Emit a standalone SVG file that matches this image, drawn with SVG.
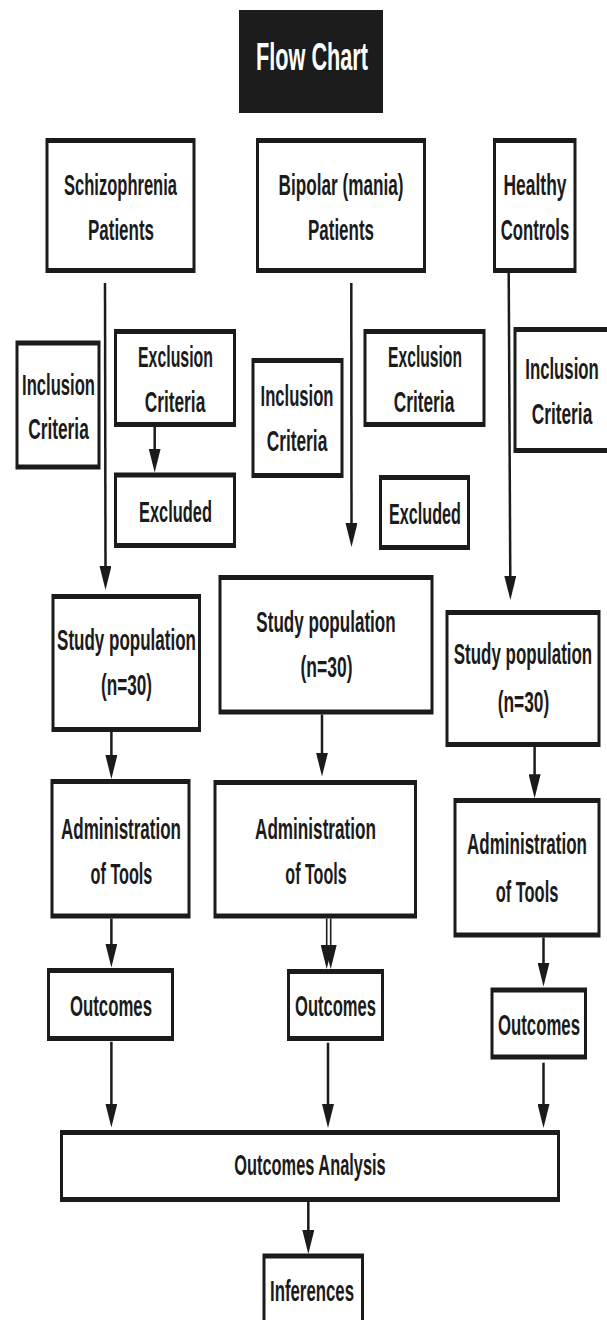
<svg xmlns="http://www.w3.org/2000/svg" width="607" height="1320" viewBox="0 0 607 1320">
<style>
.bo{fill:#1b1b1b}
.bi{fill:#ffffff}
.title{fill:#1c1c1c}
.t{font-family:"Liberation Sans",Arial,sans-serif;font-weight:bold;font-size:30px;fill:#1b1b1b;text-anchor:middle}
.tt{font-family:"Liberation Sans",Arial,sans-serif;font-weight:bold;font-size:39px;fill:#ffffff;text-anchor:middle}
.c{stroke:#1b1b1b;stroke-width:2.5;fill:none;marker-end:url(#ah)}
.c2{stroke:#1b1b1b;stroke-width:1.6;fill:none;marker-end:url(#ah)}
</style>
<defs>
<marker id="ah" viewBox="0 -6 24 12" refX="4" refY="0" markerWidth="24" markerHeight="12" markerUnits="userSpaceOnUse" orient="auto">
<path d="M0,-6 L24,0 L0,6 z" fill="#1b1b1b"/>
</marker>
</defs>
<rect width="607" height="1320" fill="#ffffff"/>

<g id="title">
<rect class="title" x="239" y="10" width="144" height="103"/>
<text class="tt" transform="translate(312,70) scale(0.556,1)">Flow Chart</text>
</g>

<g id="schizophrenia">
<rect class="bo" x="45.5" y="138" width="150" height="135"/>
<rect class="bi" x="48.5" y="143" width="144" height="125"/>
<text class="t" transform="translate(120.5,195) scale(0.551,1)">Schizophrenia</text>
<text class="t" transform="translate(121,240) scale(0.566,1)">Patients</text>
</g>

<g id="bipolar">
<rect class="bo" x="256" y="138" width="170" height="135"/>
<rect class="bi" x="259" y="143" width="164" height="125"/>
<text class="t" transform="translate(341,195) scale(0.572,1)">Bipolar (mania)</text>
<text class="t" transform="translate(341,240) scale(0.566,1)">Patients</text>
</g>

<g id="healthy">
<rect class="bo" x="493" y="138" width="83.5" height="135"/>
<rect class="bi" x="496" y="143" width="77.5" height="125"/>
<text class="t" transform="translate(535,195) scale(0.581,1)">Healthy</text>
<text class="t" transform="translate(535,240) scale(0.556,1)">Controls</text>
</g>

<g id="inclusion1">
<rect class="bo" x="15.5" y="340.5" width="85" height="129"/>
<rect class="bi" x="18.5" y="345.5" width="79" height="119"/>
<text class="t" transform="translate(58.5,395) scale(0.554,1)">Inclusion</text>
<text class="t" transform="translate(58.5,439) scale(0.576,1)">Criteria</text>
</g>

<g id="exclusion1">
<rect class="bo" x="114" y="329" width="122" height="98"/>
<rect class="bi" x="117" y="334" width="116" height="88"/>
<text class="t" transform="translate(175.5,367) scale(0.529,1)">Exclusion</text>
<text class="t" transform="translate(175,411.5) scale(0.576,1)">Criteria</text>
</g>

<g id="excluded1">
<rect class="bo" x="114" y="472.5" width="122" height="75.5"/>
<rect class="bi" x="117" y="477.5" width="116" height="65.5"/>
<text class="t" transform="translate(175.5,521.5) scale(0.547,1)">Excluded</text>
</g>

<g id="inclusion2">
<rect class="bo" x="251.5" y="358" width="92" height="120"/>
<rect class="bi" x="254.5" y="363" width="86" height="110"/>
<text class="t" transform="translate(297,406) scale(0.554,1)">Inclusion</text>
<text class="t" transform="translate(297,450.5) scale(0.576,1)">Criteria</text>
</g>

<g id="exclusion2">
<rect class="bo" x="363.5" y="329" width="122" height="98"/>
<rect class="bi" x="366.5" y="334" width="116" height="88"/>
<text class="t" transform="translate(425,367) scale(0.522,1)">Exclusion</text>
<text class="t" transform="translate(424,411.5) scale(0.576,1)">Criteria</text>
</g>

<g id="excluded2">
<rect class="bo" x="379" y="475" width="91" height="75"/>
<rect class="bi" x="382" y="480" width="85" height="65"/>
<text class="t" transform="translate(425,524) scale(0.54,1)">Excluded</text>
</g>

<g id="inclusion3">
<rect class="bo" x="513.5" y="327" width="100" height="126"/>
<rect class="bi" x="516.5" y="332" width="94" height="116"/>
<text class="t" transform="translate(562,379) scale(0.558,1)">Inclusion</text>
<text class="t" transform="translate(562,424) scale(0.576,1)">Criteria</text>
</g>

<g id="study1">
<rect class="bo" x="51.5" y="594" width="149.5" height="138"/>
<rect class="bi" x="54.5" y="599" width="143.5" height="128"/>
<text class="t" transform="translate(126.5,650) scale(0.567,1)">Study population</text>
<text class="t" transform="translate(126.5,695) scale(0.572,1)">(n=30)</text>
</g>

<g id="study2">
<rect class="bo" x="218.5" y="575" width="215" height="139.5"/>
<rect class="bi" x="221.5" y="580" width="209" height="129.5"/>
<text class="t" transform="translate(326,631.5) scale(0.569,1)">Study population</text>
<text class="t" transform="translate(326.5,676.5) scale(0.583,1)">(n=30)</text>
</g>

<g id="study3">
<rect class="bo" x="445.5" y="610" width="155" height="137"/>
<rect class="bi" x="448.5" y="615" width="149" height="127"/>
<text class="t" transform="translate(523,664) scale(0.565,1)">Study population</text>
<text class="t" transform="translate(523.5,711.5) scale(0.578,1)">(n=30)</text>
</g>

<g id="admin1">
<rect class="bo" x="50.5" y="779" width="140" height="139.5"/>
<rect class="bi" x="53.5" y="784" width="134" height="129.5"/>
<text class="t" transform="translate(121,838.5) scale(0.567,1)">Administration</text>
<text class="t" transform="translate(121.5,883.5) scale(0.54,1)">of Tools</text>
</g>

<g id="admin2">
<rect class="bo" x="213.5" y="780" width="203.5" height="138.5"/>
<rect class="bi" x="216.5" y="785" width="197.5" height="128.5"/>
<text class="t" transform="translate(315.5,838.5) scale(0.572,1)">Administration</text>
<text class="t" transform="translate(316,883.5) scale(0.536,1)">of Tools</text>
</g>

<g id="admin3">
<rect class="bo" x="453.5" y="798" width="147" height="139.5"/>
<rect class="bi" x="456.5" y="803" width="141" height="129.5"/>
<text class="t" transform="translate(527,853.5) scale(0.567,1)">Administration</text>
<text class="t" transform="translate(527,901.5) scale(0.548,1)">of Tools</text>
</g>

<g id="outcomes1">
<rect class="bo" x="47" y="968" width="127" height="73"/>
<rect class="bi" x="50" y="973" width="121" height="63"/>
<text class="t" transform="translate(111,1015.5) scale(0.559,1)">Outcomes</text>
</g>

<g id="outcomes2">
<rect class="bo" x="287" y="969" width="97" height="72"/>
<rect class="bi" x="290" y="974" width="91" height="62"/>
<text class="t" transform="translate(335.5,1015.5) scale(0.552,1)">Outcomes</text>
</g>

<g id="outcomes3">
<rect class="bo" x="490.5" y="987.5" width="96.5" height="72"/>
<rect class="bi" x="493.5" y="992.5" width="90.5" height="62"/>
<text class="t" transform="translate(539,1034.5) scale(0.559,1)">Outcomes</text>
</g>

<g id="analysis">
<rect class="bo" x="60" y="1130" width="500" height="72"/>
<rect class="bi" x="63" y="1135" width="494" height="62"/>
<text class="t" transform="translate(310,1175) scale(0.546,1)">Outcomes Analysis</text>
</g>

<g id="inferences">
<rect class="bo" x="262.5" y="1253.5" width="101.5" height="80"/>
<rect class="bi" x="265.5" y="1258.5" width="95.5" height="80"/>
<text class="t" transform="translate(312,1300.5) scale(0.56,1)">Inferences</text>
</g>

<g id="connectors">
<line class="c" x1="105" y1="283" x2="105.5" y2="570"/>
<line class="c" x1="351.3" y1="283" x2="351.5" y2="527"/>
<line class="c" x1="508.7" y1="273" x2="510.3" y2="580"/>
<line class="c" x1="154.7" y1="427" x2="154.7" y2="452.5"/>
<line class="c" x1="111.4" y1="732" x2="111.4" y2="759"/>
<line class="c" x1="322" y1="714.5" x2="322" y2="756.5"/>
<line class="c" x1="534.6" y1="747" x2="534.6" y2="778.3"/>
<line class="c" x1="111.4" y1="918.5" x2="111.4" y2="947.5"/>
<line class="c2" x1="326.7" y1="918.5" x2="326.7" y2="949"/>
<line class="c2" x1="330.7" y1="918.5" x2="330.7" y2="949"/>
<line class="c" x1="543.5" y1="937.5" x2="543.5" y2="966.5"/>
<line class="c" x1="111.4" y1="1041.7" x2="111.4" y2="1107.5"/>
<line class="c" x1="328" y1="1042.7" x2="328" y2="1108"/>
<line class="c" x1="543.5" y1="1062.7" x2="543.5" y2="1108"/>
<line class="c" x1="308.3" y1="1202" x2="308.3" y2="1234"/>
</g>
</svg>
